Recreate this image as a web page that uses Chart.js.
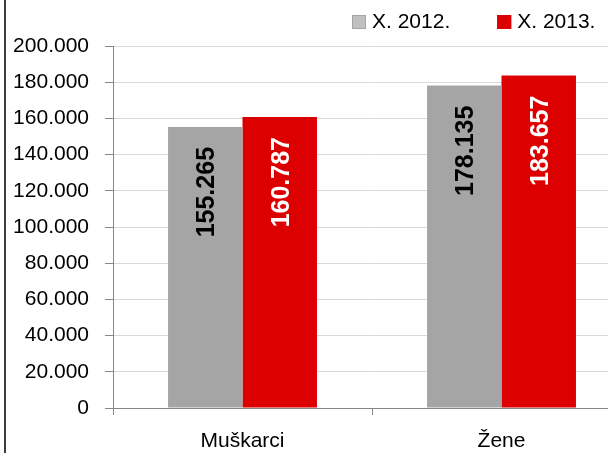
<!DOCTYPE html>
<html>
<head>
<meta charset="utf-8">
<script src="https://cdn.jsdelivr.net/npm/chart.js@4.4.1/dist/chart.umd.min.js"></script>
<style>
  html, body { margin: 0; padding: 0; background: #fff; }
  #wrap { position: relative; width: 608px; height: 453px; overflow: hidden; background: #fff; }
  #okvir { position: absolute; left: 4px; top: 0; width: 2px; height: 453px; background: #3c3c3c; }
  #graf { position: absolute; left: 0; top: 0; }
</style>
</head>
<body>
<div id="wrap">
  <canvas id="graf" width="645" height="453"></canvas>
  <div id="okvir"></div>
</div>
<script>
const kategorije = ["Muškarci", "Žene"];
const godine = ["X. 2012.", "X. 2013."];
const vrijednosti2012 = [155265, 178135];
const vrijednosti2013 = [160787, 183657];
const yMin = 0;
const yMax = 200000;
const yKorak = 20000;

const FONT = "'Liberation Sans', Arial, sans-serif";

function formatBroj(v) {
  return String(v).replace(/\B(?=(\d{3})+(?!\d))/g, ".");
}

// oznake vrijednosti okrenute okomito, pri vrhu stupca
const oznakeStupaca = {
  id: "oznakeStupaca",
  afterDatasetsDraw(chart) {
    const ctx = chart.ctx;
    chart.data.datasets.forEach((ds, i) => {
      chart.getDatasetMeta(i).data.forEach((bar, j) => {
        ctx.save();
        ctx.translate(bar.x, bar.y + 20);
        ctx.rotate(-Math.PI / 2);
        ctx.font = "bold 25px " + FONT;
        ctx.fillStyle = ds.bojaOznake;
        ctx.textAlign = "right";
        ctx.textBaseline = "middle";
        ctx.fillText(formatBroj(ds.data[j]), 0, 2);
        ctx.restore();
      });
    });
  }
};

// legenda gore desno
const legenda = {
  id: "legenda",
  afterDraw(chart) {
    const ctx = chart.ctx;
    ctx.save();
    ctx.font = "21px " + FONT;
    ctx.textBaseline = "middle";
    let x = 352;
    const y = 22;
    chart.data.datasets.forEach(ds => {
      ctx.fillStyle = ds.bojaLegende;
      ctx.fillRect(x, y - 7, 14, 14);
      ctx.strokeStyle = ds.backgroundColor;
      ctx.lineWidth = 1;
      ctx.strokeRect(x + 0.5, y - 6.5, 13, 13);
      ctx.fillStyle = "#000";
      ctx.fillText(ds.label, x + 20, y);
      x += 20 + ctx.measureText(ds.label).width + 47;
    });
    ctx.restore();
  }
};

Chart.defaults.color = "#000";
Chart.defaults.font.family = FONT;
Chart.defaults.font.size = 21;

new Chart(document.getElementById("graf"), {
  type: "bar",
  data: {
    labels: kategorije,
    datasets: [
      { label: godine[0], data: vrijednosti2012, backgroundColor: "#a5a5a5", bojaOznake: "#000", bojaLegende: "#c0c0c0" },
      { label: godine[1], data: vrijednosti2013, backgroundColor: "#dd0000", bojaOznake: "#fff", bojaLegende: "#dd0000" }
    ]
  },
  options: {
    responsive: false,
    animation: false,
    layout: { padding: { left: 0, right: 14, top: 46, bottom: 0 } },
    datasets: { bar: { categoryPercentage: 0.575, barPercentage: 1 } },
    plugins: { legend: { display: false }, tooltip: { enabled: false } },
    scales: {
      x: {
        grid: { offset: true, drawOnChartArea: false, tickLength: 7, tickColor: "#868686" },
        border: { color: "#868686" },
        ticks: { padding: 14, font: { size: 21 } },
        afterFit(scale) { scale.height = 45; }
      },
      y: {
        min: yMin,
        max: yMax,
        ticks: { stepSize: yKorak, padding: 16, callback: v => formatBroj(v) },
        grid: {
          color: c => (c.tick && c.tick.value === 0 ? "#868686" : "#d9d9d9"),
          tickColor: "#868686",
          tickLength: 8
        },
        border: { color: "#868686" },
        afterFit(scale) { scale.width = 113; }
      }
    }
  },
  plugins: [oznakeStupaca, legenda]
});
</script>
</body>
</html>
